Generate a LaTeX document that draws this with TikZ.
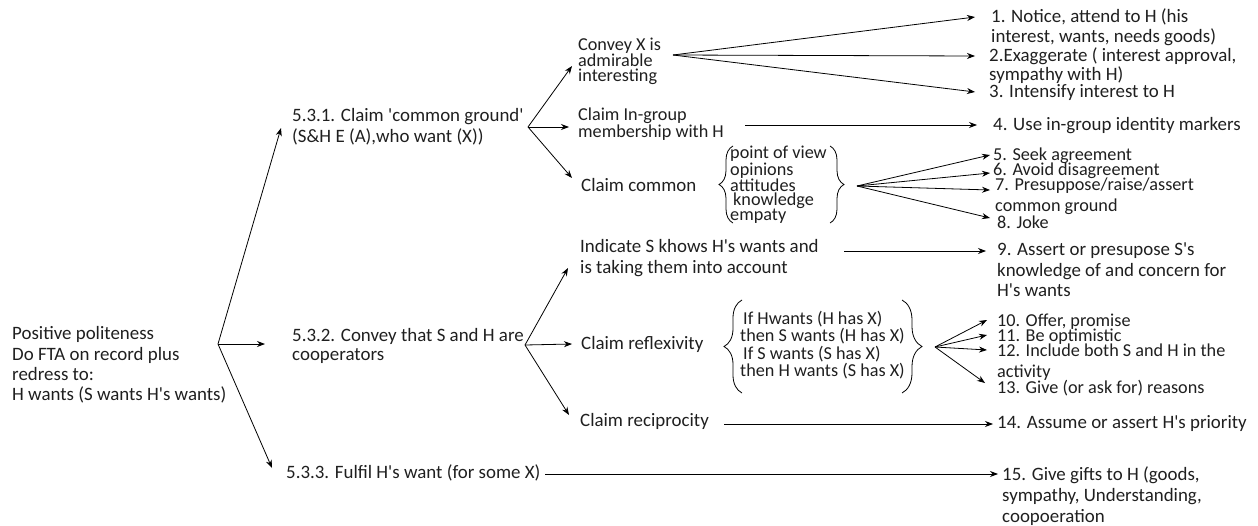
\documentclass[tikz,border=0pt]{standalone}
\usepackage{fontspec}
\setmainfont{Carlito}
\usetikzlibrary{arrows.meta,decorations.pathreplacing}
\newcommand\q{\textquotesingle}
\begin{document}
\begin{tikzpicture}[x=1pt,y=-1pt,
 txt/.style={anchor=west,inner sep=0pt,align=left,font=\fontsize{18.9}{#1}\selectfont,text=black!88},
 txt/.default=20.5,
 tight/.style={anchor=west,inner sep=0pt,align=left,font=\fontsize{18.2}{#1}\selectfont,text=black!88},
 tight/.default=20.5,
 arr/.style={-{Stealth[length=8pt,width=6pt]},line width=0.8pt},
 br/.style={decorate,decoration={brace,amplitude=#1},line width=0.8pt}]
\useasboundingbox (0,0) rectangle (1258,525);
% left root
\node[txt=20.3] (root) at (12,365) {Positive politeness\\Do FTA on record plus\\redress to:\\H wants (S wants H\q s wants)};
% level 1
\node[txt=21] (n531) at (292,127) {5.3.1. Claim \q common ground\q\\(S\&H E (A),who want (X))};
\node[txt=19.5] (n532) at (292,346) {5.3.2. Convey that S and H are\\cooperators};
\node[txt] (n533) at (286,473) {5.3.3. Fulfil H\q s want (for some X)};
% level 2
\node[tight=14.5] (conv) at (578,61) {Convey X is\\admirable\\interesting};
\node[tight=14] (ingrp) at (578,124) {Claim In-group\\membership with H};
\node[txt] (ccom) at (581,185) {Claim common};
\node[tight=13.6] (views) at (730,185) {point of view\\opinions\\attitudes\\\hspace*{3pt}knowledge\\empaty};
\node[txt=21] (ind) at (580,258) {Indicate S khows H\q s wants and\\is taking them into account};
\node[txt] (refl) at (581,344) {Claim reflexivity};
\node[tight=14] (ifa) at (740,328) {\hspace*{3pt}If Hwants (H has X)\\then S wants (H has X)};
\node[tight=14] (ifb) at (740,363) {\hspace*{3pt}If S wants (S has X)\\then H wants (S has X)};
\node[txt] (recip) at (580,421) {Claim reciprocity};
% strategies
\node[txt=20] (s1) at (991,27) {1. Notice, attend to H (his\\interest, wants, needs goods)};
\node[txt=19] (s2) at (989,66) {2.Exaggerate ( interest approval,\\sympathy with H)};
\node[txt] (s3) at (989,93) {3. Intensify interest to H};
\node[txt] (s4) at (993,126) {4. Use in-group identity markers};
\node[tight] (s5) at (993,156) {5. Seek agreement};
\node[tight] (s6) at (993,171) {6. Avoid disagreement};
\node[tight=21] (s7) at (995,196) {7. Presuppose/raise/assert\\common ground};
\node[tight] (s8) at (997,222) {8. Joke};
\node[txt=20.5] (s9) at (997,270) {9. Assert or presupose S\q s\\knowledge of and concern for\\H\q s wants};
\node[tight] (s10) at (997,322) {10. Offer, promise};
\node[tight] (s11) at (997,337) {11. Be optimistic};
\node[tight=21] (s12) at (997,362) {12. Include both S and H in the\\activity};
\node[tight] (s13) at (997,388) {13. Give (or ask for) reasons};
\node[txt] (s14) at (997,424) {14. Assume or assert H\q s priority};
\node[txt=21] (s15) at (1002,496) {15. Give gifts to H (goods,\\sympathy, Understanding,\\coopoeration};
% braces
\draw[br=14pt] (733,223) -- (733,146);
\draw[br=14pt] (830,146) -- (830,223);
\draw[br=18pt] (742,393) -- (742,300);
\draw[br=20pt] (902,300) -- (902,393);
% branch points
\coordinate (r0) at (218,344);
\coordinate (c1) at (528,127);
\coordinate (c2) at (525,345);
\coordinate (cv) at (673,55);
\coordinate (cc) at (857,186);
\coordinate (cr) at (935,347);
% root arrows
\draw[arr] (r0) -- (281,128) coordinate (t531);
\draw[arr] (r0) -- (265,344) coordinate (t532);
\draw[arr] (r0) -- (272,468) coordinate (t533);
% 5.3.1 arrows
\draw[arr] (c1) -- (572,66) coordinate (tconv);
\draw[arr] (c1) -- (569,127) coordinate (tingrp);
\draw[arr] (c1) -- (572,178) coordinate (tccom);
% 5.3.2 arrows
\draw[arr] (c2) -- (568,268) coordinate (tind);
\draw[arr] (c2) -- (572,344) coordinate (trefl);
\draw[arr] (c2) -- (569,415) coordinate (trecip);
% convey fan
\draw[arr] (cv) -- (975,17) coordinate (t1);
\draw[arr] (cv) -- (975,56) coordinate (t2);
\draw[arr] (cv) -- (975,92) coordinate (t3);
\draw[arr] (745,125) coordinate (fin) -- (977,125) coordinate (t4);
% claim common fan
\draw[arr] (cc) -- (990,155) coordinate (t5);
\draw[arr] (cc) -- (990,173) coordinate (t6);
\draw[arr] (cc) -- (990,190) coordinate (t7);
\draw[arr] (cc) -- (990,218) coordinate (t8);
% indicate
\draw[arr] (844,251) coordinate (fi) -- (986,251) coordinate (t9);
% reflexivity fan
\draw[arr] (cr) -- (987,320) coordinate (t10);
\draw[arr] (cr) -- (987,335) coordinate (t11);
\draw[arr] (cr) -- (987,350) coordinate (t12);
\draw[arr] (cr) -- (985,383) coordinate (t13);
% reciprocity
\draw[arr] (724,424) coordinate (fr) -- (993,424) coordinate (t14);
% fulfil
\draw[arr] (545,474) coordinate (ff) -- (998,474) coordinate (t15);
\end{tikzpicture}
\end{document}
